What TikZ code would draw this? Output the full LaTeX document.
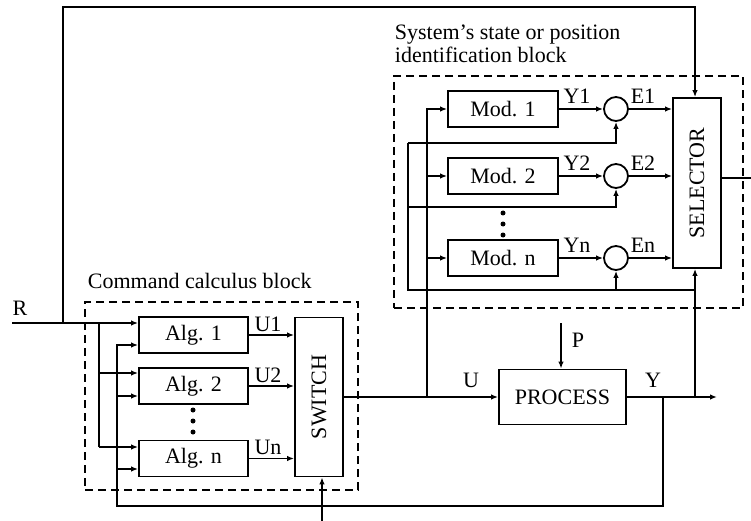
\documentclass[tikz,border=0pt]{standalone}
\usepackage{fontspec}
\setmainfont{Liberation Serif}
\usetikzlibrary{arrows.meta}
\begin{document}
\begin{tikzpicture}[x=1pt,y=-1pt, line width=1.8pt,
  font=\fontsize{22}{23}\selectfont,
  box/.style={draw, inner sep=0pt},
  arr/.style={-{Latex[length=7pt,width=5.5pt]}},
  dbox/.style={draw, dash pattern=on 8pt off 5pt, inner sep=0pt},
  sum/.style={draw, circle, minimum size=24pt, inner sep=0pt},
  lbl/.style={inner sep=0pt},
  dotmark/.style={fill, circle, minimum size=5pt, inner sep=0pt}]
\useasboundingbox (0,0) rectangle (751,521);

% dashed blocks
\node[dbox, minimum width=273pt, minimum height=188pt] (cmdblk) at (221.5,396) {};
\node[dbox, minimum width=349pt, minimum height=232pt] (idblk) at (568.5,192) {};
\node[lbl, anchor=west] (cmdtitle) at (87,281) {Command calculus block};
\node[lbl, anchor=west, align=left] (idtitle) at (394,44) {System's state or position\\identification block};

% command block
\node[box, minimum width=109pt, minimum height=36pt] (alg1) at (193.5,335) {Alg. 1};
\node[box, minimum width=109pt, minimum height=36pt] (alg2) at (193.5,386) {Alg. 2};
\node[box, minimum width=109pt, minimum height=36pt] (algn) at (193.5,458.5) {Alg. n};
\node[box, minimum width=48pt, minimum height=159pt] (sw) at (319,397) {\rotatebox{90}{SWITCH}};
\node[dotmark] (ad1) at (193,410) {};
\node[dotmark] (ad2) at (193,421) {};
\node[dotmark] (ad3) at (193,432) {};

% process
\node[box, minimum width=127pt, minimum height=55pt] (proc) at (562.5,397) {PROCESS};

% identification block
\node[box, minimum width=110pt, minimum height=36pt] (mod1) at (503,109) {Mod. 1};
\node[box, minimum width=110pt, minimum height=36pt] (mod2) at (503,176) {Mod. 2};
\node[box, minimum width=110pt, minimum height=36pt] (modn) at (503,258) {Mod. n};
\node[dotmark] (md1) at (503,213) {};
\node[dotmark] (md2) at (503,224) {};
\node[dotmark] (md3) at (503,235) {};
\node[sum] (s1) at (616,109) {};
\node[sum] (s2) at (616,176) {};
\node[sum] (sn) at (616,258) {};
\node[box, minimum width=48pt, minimum height=170pt] (sel) at (697,183) {\rotatebox{90}{SELECTOR}};

% labels
\node[lbl] (rlbl) at (20,308) {R};
\node[lbl] (u1lbl) at (268,324) {U1};
\node[lbl] (u2lbl) at (268,375) {U2};
\node[lbl] (unlbl) at (268,447) {Un};
\node[lbl] (ulbl) at (471,380) {U};
\node[lbl] (ylbl) at (653,380) {Y};
\node[lbl] (plbl) at (578,340) {P};
\node[lbl] (y1lbl) at (577,96) {Y1};
\node[lbl] (y2lbl) at (577,163) {Y2};
\node[lbl] (ynlbl) at (577,245) {Yn};
\node[lbl] (e1lbl) at (643,96) {E1};
\node[lbl] (e2lbl) at (643,163) {E2};
\node[lbl] (enlbl) at (643,245) {En};

% coordinates
\coordinate (rin) at (12,323);
\coordinate (jr1) at (63,323);
\coordinate (jr2) at (99,323);
\coordinate (jr3) at (99,373);
\coordinate (jr4) at (99,447);
\coordinate (tl) at (63,7);
\coordinate (tr) at (695,7);
\coordinate (fb1) at (663,397);
\coordinate (fb2) at (663,506);
\coordinate (fb3) at (117,506);
\coordinate (fb4) at (117,345);
\coordinate (fb5) at (117,396);
\coordinate (fb6) at (117,469);
\coordinate (swin) at (322,521);
\coordinate (ju) at (427,397);
\coordinate (pin) at (561,323);
\coordinate (yout) at (717,397);
\coordinate (jy) at (695,397);
\coordinate (c1) at (408,143);
\coordinate (c2) at (408,207);
\coordinate (c3) at (408,290);
\coordinate (c4) at (695,290);
\coordinate (selout) at (751,178);

% R input and top feedback to selector
\draw[arr] (rin) -- (rin -| alg1.west);
\draw[arr] (jr1) -- (tl) -- (tr) -- (tr |- sel.north);
\draw (jr2) -- (jr4);
\draw[arr] (jr3) -- (jr3 -| alg2.west);
\draw[arr] (jr4) -- (jr4 -| algn.west);

% process output feedback to algorithms
\draw[arr] (fb1) -- (fb2) -- (fb3) -- (fb4) -- (fb4 -| alg1.west);
\draw[arr] (fb5) -- (fb5 -| alg2.west);
\draw[arr] (fb6) -- (fb6 -| algn.west);

% algorithm outputs
\draw[arr] (alg1.east) -- (alg1.east -| sw.west);
\draw[arr] (alg2.east) -- (alg2.east -| sw.west);
\draw[arr] (algn.east) -- (algn.east -| sw.west);
\draw[arr] (swin) -- (swin |- sw.south);

% main line
\draw[arr] (sw.east) -- (proc.west);
\draw[arr] (pin) -- (pin |- proc.north);
\draw[arr] (proc.east) -- (yout);

% model inputs
\draw[arr] (ju) -- (ju |- mod1.west) -- (mod1.west);
\draw[arr] (ju |- mod2.west) -- (mod2.west);
\draw[arr] (ju |- modn.west) -- (modn.west);

% comparisons
\draw[arr] (mod1.east) -- (s1.west);
\draw[arr] (mod2.east) -- (s2.west);
\draw[arr] (modn.east) -- (sn.west);
\draw[arr] (s1.east) -- (s1.east -| sel.west);
\draw[arr] (s2.east) -- (s2.east -| sel.west);
\draw[arr] (sn.east) -- (sn.east -| sel.west);
\draw (c1) -- (c3) -- (c4);
\draw[arr] (c1) -- (c1 -| s1.south) -- (s1.south);
\draw[arr] (c2) -- (c2 -| s2.south) -- (s2.south);
\draw[arr] (c3 -| sn.south) -- (sn.south);
\draw[arr] (jy) -- (jy |- sel.south);
\draw (sel.east |- selout) -- (selout);
\end{tikzpicture}
\end{document}
